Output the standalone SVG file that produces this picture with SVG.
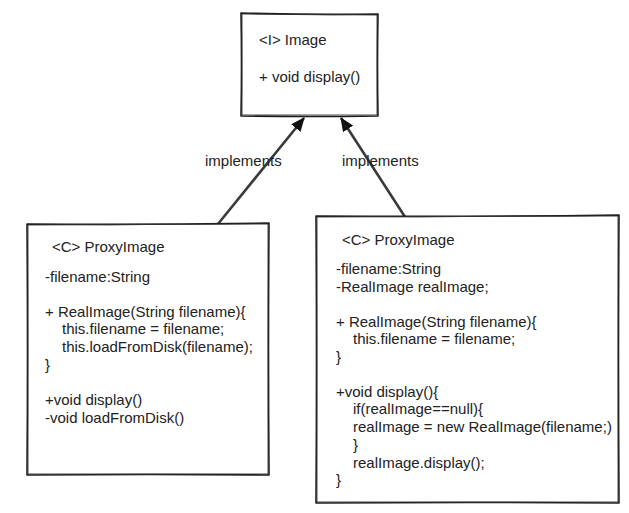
<svg xmlns="http://www.w3.org/2000/svg" width="629" height="513" viewBox="0 0 629 513">
<style>
.box{fill:#fff;stroke:#1a1a1a;stroke-width:1.6;stroke-linejoin:round}
.box2{fill:none;stroke:#333;stroke-width:0.9}
.t{font-family:"Liberation Sans",Arial,sans-serif;font-size:15px;fill:#222}
.edge{stroke:#3a3a3a;stroke-width:2.6;fill:none}
</style>
<defs>
<marker id="tri" markerWidth="14" markerHeight="12" refX="13" refY="6" orient="auto" markerUnits="userSpaceOnUse">
<path d="M0,0 L14,6 L0,12 Z" fill="#111"/>
</marker>
</defs>
<rect width="629" height="513" fill="#fff"/>
<g id="connectors">
<g id="edge-left">
<path class="edge" d="M218,224 L304,118" marker-end="url(#tri)"/>
<text class="t" x="205" y="166">implements</text>
</g>
<g id="edge-right">
<path class="edge" d="M407,220 L341,118" marker-end="url(#tri)"/>
<text class="t" x="342" y="166">implements</text>
</g>
</g>
<g id="node-image">
<path class="box" d="M241,13 Q310,15 378,14 Q377,65 378,116 Q310,117 241,116 Q242,65 241,13 Z"/>
<path class="box2" d="M242,14 L377,15 L377,115 L242,115 Z"/>
<text class="t" x="259" y="45">&lt;I&gt; Image</text>
<text class="t" x="259" y="82">+ void display()</text>
</g>
<g id="node-proxy-left">
<path class="box" d="M27,224 Q150,225 269,223 Q268,350 269,475 Q150,474 27,475 Q28,350 27,224 Z"/>
<path class="box2" d="M28,225 L268,224 L268,474 L28,474 Z"/>
<text class="t" x="52" y="252">&lt;C&gt; ProxyImage</text>
<text class="t" x="45" y="282">-filename:String</text>
<text class="t" x="45" y="317">+ RealImage(String filename){</text>
<text class="t" x="62" y="334">this.filename = filename;</text>
<text class="t" x="62" y="352">this.loadFromDisk(filename);</text>
<text class="t" x="45" y="370">}</text>
<text class="t" x="45" y="405">+void display()</text>
<text class="t" x="45" y="423">-void loadFromDisk()</text>
</g>
<g id="node-proxy-right">
<path class="box" d="M316,216 Q470,217 619,215 Q618,360 619,503 Q470,502 316,503 Q317,360 316,216 Z"/>
<path class="box2" d="M317,217 L618,216 L618,502 L317,502 Z"/>
<text class="t" x="342" y="245">&lt;C&gt; ProxyImage</text>
<text class="t" x="336" y="274">-filename:String</text>
<text class="t" x="336" y="292">-RealImage realImage;</text>
<text class="t" x="336" y="327">+ RealImage(String filename){</text>
<text class="t" x="353" y="344">this.filename = filename;</text>
<text class="t" x="336" y="362">}</text>
<text class="t" x="336" y="397">+void display(){</text>
<text class="t" x="353" y="414">if(realImage==null){</text>
<text class="t" x="353" y="432">realImage = new RealImage(filename;)</text>
<text class="t" x="353" y="450">}</text>
<text class="t" x="353" y="468">realImage.display();</text>
<text class="t" x="336" y="485">}</text>
</g>
</svg>
